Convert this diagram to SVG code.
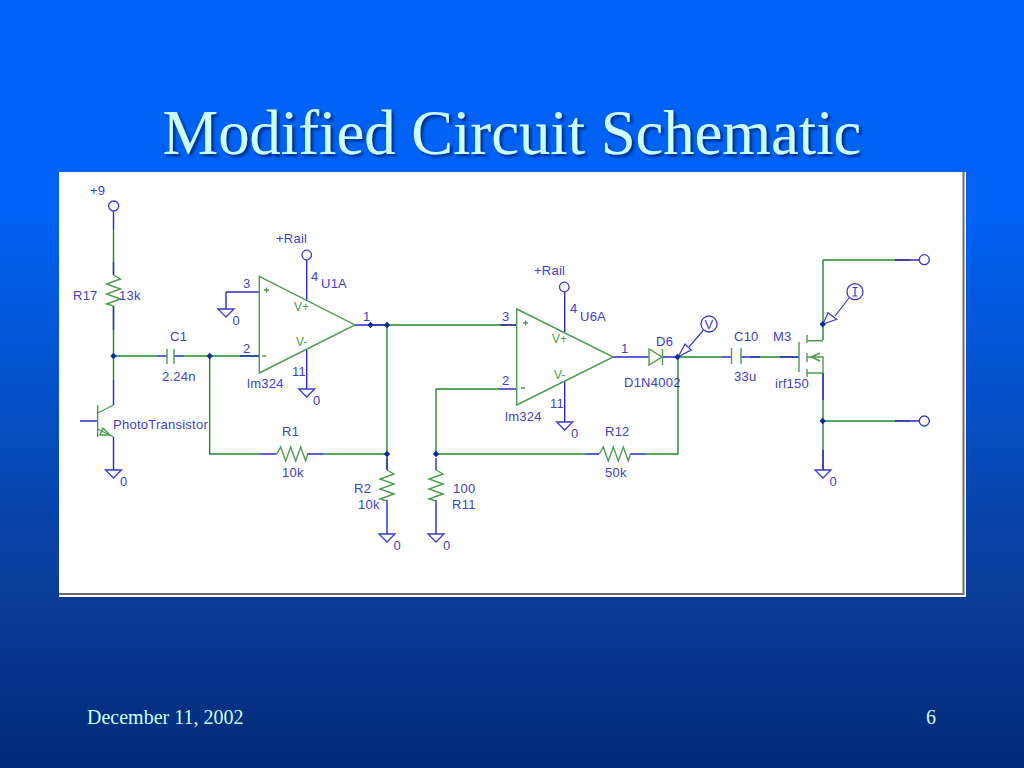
<svg xmlns="http://www.w3.org/2000/svg" width="1024" height="768" viewBox="0 0 1024 768">
<style>
.w{fill:none;stroke:#1f8a2a;stroke-width:1.4}
.p{fill:none;stroke:#2a2ac8;stroke-width:1.4}
.g{fill:none;stroke:#4f9a52;stroke-width:1.4}
.b{fill:#fff;stroke:#3a3ac8;stroke-width:1.3}
.n{fill:none;stroke:#3a3ac8;stroke-width:1.2}
.j{fill:#0a2aa0;stroke:none}
text{font-family:"Liberation Sans",Arial,sans-serif}
.t{font-size:13px;letter-spacing:.25px;fill:#4040c8}
.v{font-size:12px;fill:#4f9a52}
.m{font-family:"Liberation Serif","Times New Roman",serif;fill:#ccffff}
</style>
<defs>
<linearGradient id="bg" x1="0" y1="0" x2="0" y2="1">
<stop offset="0" stop-color="#0062f4"/><stop offset="0.28" stop-color="#0062f4"/><stop offset="0.78" stop-color="#0a3c96"/><stop offset="1" stop-color="#002a78"/>
</linearGradient>
<filter id="sh" x="-5%" y="-20%" width="110%" height="140%"><feDropShadow dx="2.500" dy="2.500" stdDeviation="0.800" flood-color="#00246a" flood-opacity="0.800"/></filter>
<path id="gnd" d="M-8 0H8L0 8Z" class="b" style="fill:none"/>
<path id="rv" d="M0 0L7 4L-7 9L7 14L-7 19L7 24L-7 29L0 31" class="g"/>
<path id="rh" d="M0 0L4 -7L9 7L14 -7L19 7L24 -7L29 7L31 0" class="g"/>
<path id="dot" d="M-3.200 0L0 -3.200L3.200 0L0 3.200Z" class="j"/>
</defs>
<rect width="1024" height="768" fill="url(#bg)"/>
<text id="title" class="m" x="512" y="154" font-size="62.600" text-anchor="middle" filter="url(#sh)">Modified Circuit Schematic</text>
<rect x="59" y="172" width="907" height="425" fill="#fff"/>
<path d="M963.500 172V594H59" fill="none" stroke="#6a6a70" stroke-width="2"/>

<g id="connectors">
<path class="w" d="M113.500 230V275M113.500 306V356M113.500 356V380M113.500 356H157M184 356H259M209.700 356V454H260M323 454H387M387 325V454M387 470V454M370 325H516M436 389V454M436 389H500M436 454H585M645 454H678V357M678 357H722M750 357H799M823 260H910M823 260V340M823 373V470M823 421H910"/>
<path class="p" d="M113.500 211V230M113.500 262V275M113.500 306V330M113.500 380V405M80 421H97.700M113.500 437V470M157 356H167M174 356H184M240 356H259M240 292H259M226 292H240M226 292V309M306.700 260V300M306.700 350V389M355 325H387M260 454H276.700M307 454H323M387 470V458M387 500V534M436 458V470M436 500V534M500 325H516.700M500 389H516.700M564.700 292V332M564.700 382V422M613 357H649M662 357H678M585 454H599M630 454H645M722 357H731M741 357H760M780 357H799M823 373V400M823 450V470M895 260H919M895 421H919"/>
</g>

<g id="r17"><use href="#rv" x="113.500" y="275"/><text class="t" x="73" y="300">R17</text><text class="t" x="119" y="300">13k</text></g>
<g id="vcc9"><circle cx="113.700" cy="206" r="5" class="b"/><text class="t" x="90" y="195">+9</text></g>
<g id="c1"><path class="g" d="M167 349V364M174 349V364"/><text class="t" x="170" y="341">C1</text><text class="t" x="162" y="381">2.24n</text></g>
<g id="q1"><path class="g" d="M97.700 405V437M113.500 405L97.700 413M97.700 429L113.500 437M103 428L110 435L100 435Z"/><text class="t" x="113" y="429">PhotoTransistor</text></g>
<g id="gnd1"><use href="#gnd" x="113.500" y="470"/><text class="t" x="120" y="486">0</text></g>
<g id="u1a"><path class="g" d="M259.300 276.300V373L355 325Z"/><path class="g" d="M264 290H269M266.500 287.500V292.500M262 356H266"/><text class="t" x="243" y="288">3</text><text class="t" x="243" y="353">2</text><text class="t" x="311" y="281">4</text><text class="t" x="321" y="288">U1A</text><text class="t" x="292" y="376">11</text><text class="t" x="363" y="321">1</text><text class="t" x="247" y="388">lm324</text><text class="v" x="294" y="311">V+</text><text class="v" x="296" y="346">V-</text></g>
<g id="rail1"><circle cx="306.700" cy="255" r="4.800" class="b"/><text class="t" x="276" y="243">+Rail</text></g>
<g id="gnd2"><use href="#gnd" x="226" y="309"/><text class="t" x="232.500" y="325">0</text></g>
<g id="gnd3"><use href="#gnd" x="306.700" y="389"/><text class="t" x="313" y="405">0</text></g>
<g id="r1"><use href="#rh" x="276.700" y="454"/><text class="t" x="282" y="436">R1</text><text class="t" x="282" y="477">10k</text></g>
<g id="r2"><use href="#rv" x="387" y="470"/><text class="t" x="354" y="493">R2</text><text class="t" x="358" y="509">10k</text><use href="#gnd" x="387" y="534"/><text class="t" x="393.500" y="550">0</text></g>
<g id="r11"><use href="#rv" x="436" y="470"/><text class="t" x="453" y="493">100</text><text class="t" x="452" y="509">R11</text><use href="#gnd" x="436" y="534"/><text class="t" x="443" y="550">0</text></g>
<g id="u6a"><path class="g" d="M516.700 309V405L613.300 357Z"/><path class="g" d="M523 323H528M525.500 320.500V325.500M521 388H525"/><text class="t" x="502" y="321">3</text><text class="t" x="502" y="385">2</text><text class="t" x="570" y="313">4</text><text class="t" x="580" y="321">U6A</text><text class="t" x="550" y="408">11</text><text class="t" x="621" y="353">1</text><text class="t" x="505" y="421">lm324</text><text class="v" x="552" y="343">V+</text><text class="v" x="554" y="379">V-</text></g>
<g id="rail2"><circle cx="564.300" cy="287" r="4.800" class="b"/><text class="t" x="534" y="275">+Rail</text></g>
<g id="gnd4"><use href="#gnd" x="564.700" y="422"/><text class="t" x="571" y="438">0</text></g>
<g id="r12"><use href="#rh" x="599.300" y="454"/><text class="t" x="605" y="436">R12</text><text class="t" x="605" y="477">50k</text></g>
<g id="d6"><path class="g" d="M649 349V365L662 357ZM662.500 349V365"/><text class="t" x="656" y="346">D6</text><text class="t" x="624" y="387">D1N4002</text></g>
<g id="vprobe"><circle cx="709" cy="324" r="8" class="b"/><path class="n" d="M689 347L703.500 330M678 357L685 344L691 350Z"/><text class="t" x="704.500" y="328.500">V</text></g>
<g id="c10"><path class="g" d="M731.500 348V364M741 348V364"/><text class="t" x="734" y="341">C10</text><text class="t" x="734" y="381">33u</text></g>
<g id="m3"><path class="g" d="M799 342V372M807 335V343M807 353V362M807 369V377M807 340.700H823M807 357H823V373M807 373H823M820 353L811 357L820 361"/><text class="t" x="773" y="341">M3</text><text class="t" x="775" y="388">irf150</text></g>
<g id="iprobe"><circle cx="855" cy="291.700" r="8" class="b"/><path class="n" d="M835 316L849 298M823 324L828 312.700L836.700 319.300Z"/><path class="n" d="M852.500 287.500H857.500M855 287.500V296M852.500 296H857.500"/></g>
<g id="gnd5"><use href="#gnd" x="823" y="470"/><text class="t" x="829.500" y="486">0</text></g>
<g id="out1"><circle cx="924.300" cy="259.700" r="5" class="b"/></g>
<g id="out2"><circle cx="924.300" cy="421" r="5" class="b"/></g>
<g id="junctions"><use href="#dot" x="113.500" y="356"/><use href="#dot" x="209.700" y="356"/><use href="#dot" x="370.500" y="325"/><use href="#dot" x="387" y="325"/><use href="#dot" x="387" y="454"/><use href="#dot" x="436" y="454"/><use href="#dot" x="677.500" y="357"/><use href="#dot" x="822.700" y="324.300"/><use href="#dot" x="822.700" y="421"/></g>
<text class="m" x="87" y="724" font-size="20">December 11, 2002</text>
<text class="m" x="926" y="724" font-size="20">6</text>
</svg>
